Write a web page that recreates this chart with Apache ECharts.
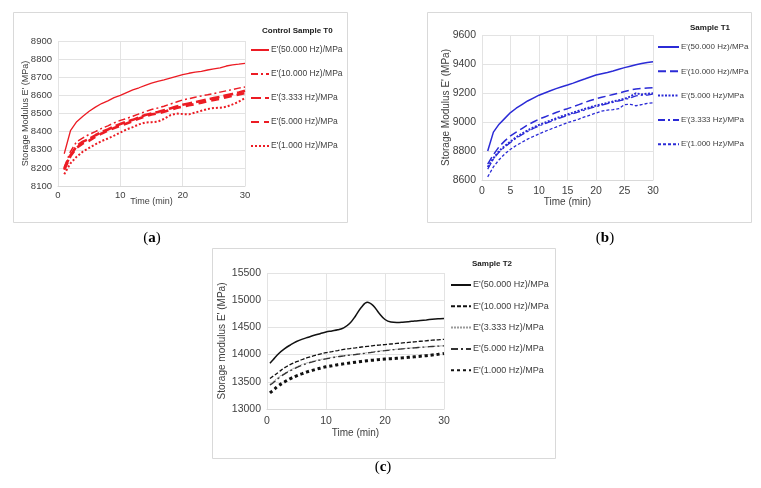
<!DOCTYPE html>
<html><head><meta charset="utf-8">
<script src="https://cdn.jsdelivr.net/npm/echarts@6/dist/echarts.min.js"></script>
<style>html,body{margin:0;padding:0;background:#fff}#c{width:761px;height:488px}</style>
</head><body><div id="c"></div>
<script>
// ---------- data ----------
const timeAB = [1,2,3,4,5,6,7,8,9,10,11,12,13,14,15,16,17,18,19,20,21,22,23,24,25,26,27,28,29,30];
const timeC = [0.5,1,2,3,4,5,6,7,8,9,10,11,12,13,14,15,16,17,18,19,20,21,22,23,24,25,26,27,28,29,30];

// Panel (a) Control Sample T0
const legendA = ["E'(50.000 Hz)/MPa","E'(10.000 Hz)/MPa","E'(3.333 Hz)/MPa","E'(5.000 Hz)/MPa","E'(1.000 Hz)/MPa"];
const a50  = [8278,8405,8455,8485,8512,8535,8555,8570,8588,8600,8615,8630,8642,8655,8667,8677,8685,8695,8705,8714,8722,8728,8733,8740,8746,8752,8762,8768,8772,8777];
const a10  = [8205,8290,8345,8365,8385,8400,8418,8432,8448,8462,8472,8485,8498,8510,8522,8530,8540,8552,8563,8575,8582,8590,8597,8603,8610,8618,8625,8632,8640,8646];
const a3   = [8195,8270,8320,8345,8360,8380,8398,8412,8428,8442,8455,8465,8478,8492,8500,8508,8518,8528,8538,8548,8555,8562,8570,8578,8585,8592,8600,8608,8616,8625];
const a5   = [8190,8265,8312,8335,8350,8372,8390,8405,8420,8432,8445,8458,8472,8485,8495,8500,8510,8520,8530,8538,8545,8552,8560,8568,8575,8582,8590,8597,8605,8612];
const a1   = [8165,8225,8262,8290,8310,8330,8348,8362,8378,8395,8412,8425,8440,8450,8452,8455,8470,8490,8500,8497,8495,8505,8515,8525,8530,8532,8537,8550,8565,8585];

// Panel (b) Sample T1
const legendB = ["E'(50.000 Hz)/MPa","E'(10.000 Hz)/MPa","E'(5.000 Hz)/MPa","E'(3.333 Hz)/MPa","E'(1.000 Hz)/MPa"];
const b50 = [8800,8930,8985,9025,9065,9095,9120,9145,9165,9185,9200,9215,9230,9243,9255,9268,9283,9296,9310,9324,9333,9342,9352,9364,9375,9385,9395,9403,9410,9415];
const b10 = [8710,8775,8830,8870,8905,8930,8955,8980,9000,9020,9035,9050,9065,9080,9092,9105,9120,9135,9148,9160,9170,9180,9190,9200,9210,9220,9228,9232,9235,9237];
const b5  = [8690,8750,8800,8835,8865,8895,8920,8942,8962,8980,8995,9010,9025,9040,9052,9065,9078,9090,9102,9113,9122,9132,9142,9150,9160,9175,9198,9190,9195,9198];
const b3  = [8675,8745,8792,8828,8858,8888,8912,8935,8955,8972,8988,9002,9018,9032,9045,9058,9070,9082,9095,9106,9116,9126,9136,9145,9155,9165,9180,9185,9185,9192];
const b1  = [8622,8690,8740,8780,8812,8838,8860,8882,8900,8918,8935,8950,8965,8980,8995,9008,9020,9035,9048,9062,9075,9082,9085,9092,9120,9122,9112,9120,9128,9132];

// Panel (c) Sample T2
const legendC = ["E'(50.000 Hz)/MPa","E'(10.000 Hz)/MPa","E'(3.333 Hz)/MPa","E'(5.000 Hz)/MPa","E'(1.000 Hz)/MPa"];
const c50 = [13840,13900,14020,14110,14180,14240,14285,14320,14355,14385,14415,14435,14455,14490,14570,14710,14870,14962,14900,14760,14645,14598,14590,14595,14605,14618,14628,14638,14648,14657,14665];
const c10 = [13560,13600,13680,13760,13820,13870,13910,13950,13980,14010,14035,14055,14075,14095,14110,14125,14140,14150,14165,14175,14185,14195,14205,14215,14225,14235,14245,14255,14265,14272,14280];
const c3  = [13460,13500,13590,13660,13720,13775,13820,13855,13885,13910,13930,13950,13965,13980,13995,14005,14020,14035,14050,14065,14078,14090,14100,14110,14118,14126,14134,14142,14150,14157,14163];
const c5  = [13440,13480,13570,13645,13705,13760,13805,13845,13875,13900,13920,13942,13960,13975,13990,14002,14015,14030,14045,14060,14072,14085,14095,14105,14115,14125,14133,14141,14149,14156,14162];
const c1  = [13295,13340,13430,13500,13560,13610,13650,13690,13720,13750,13775,13795,13815,13830,13845,13860,13875,13888,13898,13908,13918,13925,13933,13940,13950,13960,13970,13980,13992,14005,14020];

// ---------- chart ----------
const FONT = '"Liberation Sans", Arial, sans-serif';
const pairs = (t, v) => t.map((x, i) => [x, v[i]]);
const RED = '#ec1c24', BLUE = '#2b2bd6', BLK = '#111111';

function mkSeries(panel, idx, names, vals, t, styles, smooth) {
  return names.map((n, i) => ({
    name: panel + '|' + n,
    type: 'line',
    xAxisIndex: idx, yAxisIndex: idx,
    data: pairs(t, vals[i]),
    symbol: 'none',
    smooth: smooth ? 0.4 : false,
    color: styles[i].color,
    itemStyle: { color: styles[i].color },
    lineStyle: styles[i],
    emphasis: { disabled: true },
    animation: false
  }));
}

const series = [].concat(
  mkSeries('a', 0, legendA, [a50, a10, a3, a5, a1], timeAB, [
    { color: RED, width: 1.3, type: 'solid' },
    { color: RED, width: 1.5, type: [7, 3, 2, 3] },
    { color: RED, width: 2.6, type: [10, 4] },
    { color: RED, width: 2.6, type: [8, 5] },
    { color: RED, width: 2, type: [2, 2] }
  ], false),
  mkSeries('b', 1, legendB, [b50, b10, b5, b3, b1], timeAB, [
    { color: BLUE, width: 1.5, type: 'solid' },
    { color: BLUE, width: 1.5, type: [8, 4] },
    { color: BLUE, width: 2, type: [2, 1.5] },
    { color: BLUE, width: 1.3, type: [7, 3, 2, 3] },
    { color: BLUE, width: 1.3, type: [3, 2] }
  ], false),
  mkSeries('c', 2, legendC, [c50, c10, c3, c5, c1], timeC, [
    { color: BLK, width: 1.5, type: 'solid' },
    { color: BLK, width: 1.3, type: [4, 2] },
    { color: '#9a9a9a', width: 0.8, type: [2, 1] },
    { color: '#333333', width: 1.3, type: [7, 3, 2, 3] },
    { color: BLK, width: 3, type: [3, 3] }
  ], true)
);

const plain = (v) => String(v);

function xAxis(idx, interval, nameGap, margin, fs) {
  return {
    gridIndex: idx, type: 'value', min: 0, max: 30, interval: interval,
    name: 'Time (min)', nameLocation: 'middle', nameGap: nameGap, nameMoveOverlap: false,
    nameTextStyle: { fontFamily: FONT, fontSize: fs, color: '#404040' },
    axisLine: { show: true, lineStyle: { color: '#d9d9d9', width: 1 } },
    axisTick: { show: false },
    axisLabel: { margin: margin, fontFamily: FONT, fontSize: fs + 0.5, color: '#404040', formatter: plain },
    splitLine: { show: true, lineStyle: { color: '#e3e3e3', width: 1 } }
  };
}
function yAxis(idx, min, max, interval, name, nameGap, fs) {
  return {
    gridIndex: idx, type: 'value', min: min, max: max, interval: interval,
    name: name, nameLocation: 'middle', nameGap: nameGap, nameMoveOverlap: false,
    nameTextStyle: { fontFamily: FONT, fontSize: fs, color: '#404040' },
    axisLine: { show: false }, axisTick: { show: false },
    axisLabel: { margin: 6, fontFamily: FONT, fontSize: fs + 0.5, color: '#404040', formatter: plain },
    splitLine: { show: true, lineStyle: { color: '#e3e3e3', width: 1 } }
  };
}
function legend(panel, names, left, top, iw, gapTotal, fs) {
  return {
    orient: 'vertical', left: left, top: top, padding: 0,
    itemWidth: iw, itemHeight: 10, itemGap: gapTotal - 10,
    selectedMode: false,
    itemStyle: { color: 'rgba(0,0,0,0)', borderColor: 'rgba(0,0,0,0)', borderWidth: 0 },
    data: names.map(n => panel + '|' + n),
    formatter: (nm) => nm.split('|')[1],
    textStyle: { fontFamily: FONT, fontSize: fs, color: '#404040', lineHeight: 10, padding: [0, 0, 0, -3] }
  };
}
function titleT(text, left, top) {
  return { text: text, left: left, top: top, padding: 0,
    textStyle: { fontFamily: FONT, fontSize: 8, fontWeight: 'bold', color: '#1a1a1a' } };
}
function frame(x, y, w, h) {
  return { type: 'rect', shape: { x: x + 0.5, y: y + 0.5, width: w, height: h },
    style: { fill: 'none', stroke: '#d9d9d9', lineWidth: 1 }, silent: true, z: -1 };
}
function panelLabel(letter, x, y) {
  return { type: 'text', x: x, y: y, silent: true,
    style: { text: '{p|(}{l|' + letter + '}{p|)}', textAlign: 'center', textVerticalAlign: 'middle',
      rich: { p: { fontFamily: '"Liberation Serif", "DejaVu Serif", serif', fontSize: 15, fill: '#000' },
              l: { fontFamily: '"Liberation Serif", "DejaVu Serif", serif', fontSize: 15, fontWeight: 'bold', fill: '#000' } } } };
}

const option = {
  backgroundColor: '#ffffff',
  animation: false,
  title: [
    titleT('Control Sample T0', 262, 27),
    titleT('Sample T1', 690, 24),
    titleT('Sample T2', 472, 260)
  ],
  grid: [
    { left: 58, top: 41, width: 187, height: 145, outerBoundsMode: 'none', containLabel: false },
    { left: 482, top: 35, width: 171, height: 145, outerBoundsMode: 'none', containLabel: false },
    { left: 267, top: 273, width: 177, height: 136, outerBoundsMode: 'none', containLabel: false }
  ],
  xAxis: [ xAxis(0, 10, 11, 4, 9), xAxis(1, 5, 17, 6, 10), xAxis(2, 10, 19, 7, 10) ],
  yAxis: [
    yAxis(0, 8100, 8900, 100, "Storage Modulus E' (MPa)", 28, 9),
    yAxis(1, 8600, 9600, 200, "Storage Modulus E' (MPa)", 31, 10),
    yAxis(2, 13000, 15500, 500, "Storage modulus E' (MPa)", 40, 10)
  ],
  legend: [
    legend('a', legendA, 250, 45, 18, 24, 8.5),
    legend('b', legendB, 657, 42, 21, 24.3, 8),
    legend('c', legendC, 450, 280, 20, 21.3, 9)
  ],
  graphic: [
    frame(13, 12, 334, 210),
    frame(427, 12, 324, 210),
    frame(212, 248, 343, 210),
    panelLabel('a', 152, 238),
    panelLabel('b', 605, 238),
    panelLabel('c', 383, 467)
  ],
  series: series
};

const chart = echarts.init(document.getElementById('c'), null, { renderer: 'canvas' });
chart.setOption(option);
</script>
</body></html>
